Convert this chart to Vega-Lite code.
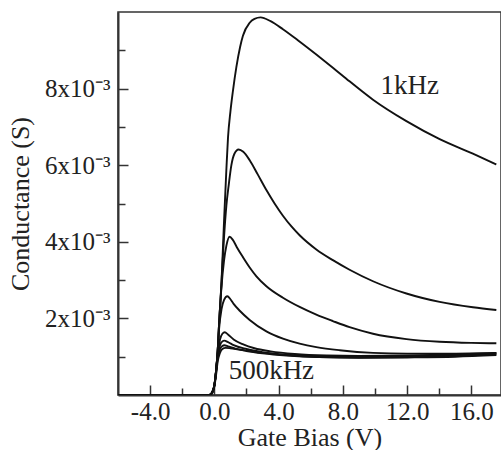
{
  "$schema": "https://vega.github.io/schema/vega-lite/v6.json",
  "width": 383,
  "height": 383,
  "autosize": "none",
  "padding": {"left": 118, "top": 12, "right": 0, "bottom": 55},
  "background": "white",
  "config": {
    "view": {"stroke": "#333", "strokeWidth": 1.5},
    "font": "Liberation Serif",
    "axis": {
      "grid": false,
      "labelFont": "Liberation Serif",
      "titleFont": "Liberation Serif",
      "labelColor": "#222",
      "titleColor": "#222",
      "labelFontSize": 25,
      "titleFontSize": 26,
      "titleFontWeight": "normal",
      "domainColor": "#333",
      "domainWidth": 2,
      "tickColor": "#333",
      "tickWidth": 1.5
    }
  },
  "datasets": {
    "curves": [
      {"curve": "1kHz", "bias": -6, "conductance": 0},
      {"curve": "1kHz", "bias": -0.3, "conductance": 0},
      {"curve": "1kHz", "bias": -0.1, "conductance": 0.0001},
      {"curve": "1kHz", "bias": 0, "conductance": 0.00025},
      {"curve": "1kHz", "bias": 0.1, "conductance": 0.0006},
      {"curve": "1kHz", "bias": 0.2, "conductance": 0.0011},
      {"curve": "1kHz", "bias": 0.3, "conductance": 0.0019},
      {"curve": "1kHz", "bias": 0.44, "conductance": 0.0029},
      {"curve": "1kHz", "bias": 0.6, "conductance": 0.0045},
      {"curve": "1kHz", "bias": 0.75, "conductance": 0.0059},
      {"curve": "1kHz", "bias": 0.85, "conductance": 0.00672},
      {"curve": "1kHz", "bias": 1.0, "conductance": 0.0074},
      {"curve": "1kHz", "bias": 1.16, "conductance": 0.00795},
      {"curve": "1kHz", "bias": 1.37, "conductance": 0.00856},
      {"curve": "1kHz", "bias": 1.6, "conductance": 0.00908},
      {"curve": "1kHz", "bias": 1.78, "conductance": 0.00938},
      {"curve": "1kHz", "bias": 2.2, "conductance": 0.00972},
      {"curve": "1kHz", "bias": 2.5, "conductance": 0.00982},
      {"curve": "1kHz", "bias": 2.88, "conductance": 0.00986},
      {"curve": "1kHz", "bias": 3.5, "conductance": 0.00976},
      {"curve": "1kHz", "bias": 4.27, "conductance": 0.00955},
      {"curve": "1kHz", "bias": 5.3, "conductance": 0.00923},
      {"curve": "1kHz", "bias": 6.35, "conductance": 0.00889},
      {"curve": "1kHz", "bias": 7.4, "conductance": 0.00854},
      {"curve": "1kHz", "bias": 8.42, "conductance": 0.00819},
      {"curve": "1kHz", "bias": 9.88, "conductance": 0.00771},
      {"curve": "1kHz", "bias": 11.96, "conductance": 0.00715},
      {"curve": "1kHz", "bias": 14.03, "conductance": 0.00668},
      {"curve": "1kHz", "bias": 16.1, "conductance": 0.0063},
      {"curve": "1kHz", "bias": 17.56, "conductance": 0.00602},

      {"curve": "c2", "bias": -6, "conductance": 0},
      {"curve": "c2", "bias": -0.3, "conductance": 0},
      {"curve": "c2", "bias": -0.1, "conductance": 0.0001},
      {"curve": "c2", "bias": 0, "conductance": 0.00025},
      {"curve": "c2", "bias": 0.1, "conductance": 0.0006},
      {"curve": "c2", "bias": 0.2, "conductance": 0.0011},
      {"curve": "c2", "bias": 0.3, "conductance": 0.0019},
      {"curve": "c2", "bias": 0.44, "conductance": 0.0029},
      {"curve": "c2", "bias": 0.6, "conductance": 0.0041},
      {"curve": "c2", "bias": 0.75, "conductance": 0.00495},
      {"curve": "c2", "bias": 0.9, "conductance": 0.0055},
      {"curve": "c2", "bias": 1.06, "conductance": 0.006},
      {"curve": "c2", "bias": 1.25, "conductance": 0.0063},
      {"curve": "c2", "bias": 1.51, "conductance": 0.00641},
      {"curve": "c2", "bias": 1.8, "conductance": 0.00635},
      {"curve": "c2", "bias": 2.2, "conductance": 0.00613},
      {"curve": "c2", "bias": 2.7, "conductance": 0.00576},
      {"curve": "c2", "bias": 3.24, "conductance": 0.00535},
      {"curve": "c2", "bias": 3.75, "conductance": 0.005},
      {"curve": "c2", "bias": 4.27, "conductance": 0.00468},
      {"curve": "c2", "bias": 4.8, "conductance": 0.0044},
      {"curve": "c2", "bias": 5.31, "conductance": 0.00417},
      {"curve": "c2", "bias": 6.35, "conductance": 0.0038},
      {"curve": "c2", "bias": 7.38, "conductance": 0.00352},
      {"curve": "c2", "bias": 8.42, "conductance": 0.00327},
      {"curve": "c2", "bias": 9.88, "conductance": 0.00297},
      {"curve": "c2", "bias": 11.96, "conductance": 0.00265},
      {"curve": "c2", "bias": 14.03, "conductance": 0.00243},
      {"curve": "c2", "bias": 16.1, "conductance": 0.00229},
      {"curve": "c2", "bias": 17.56, "conductance": 0.00222},

      {"curve": "c3", "bias": -6, "conductance": 0},
      {"curve": "c3", "bias": -0.3, "conductance": 0},
      {"curve": "c3", "bias": -0.1, "conductance": 0.0001},
      {"curve": "c3", "bias": 0, "conductance": 0.00025},
      {"curve": "c3", "bias": 0.1, "conductance": 0.0006},
      {"curve": "c3", "bias": 0.2, "conductance": 0.0011},
      {"curve": "c3", "bias": 0.3, "conductance": 0.0019},
      {"curve": "c3", "bias": 0.44, "conductance": 0.0028},
      {"curve": "c3", "bias": 0.6, "conductance": 0.0035},
      {"curve": "c3", "bias": 0.75, "conductance": 0.0039},
      {"curve": "c3", "bias": 0.95, "conductance": 0.00413},
      {"curve": "c3", "bias": 1.15, "conductance": 0.00405},
      {"curve": "c3", "bias": 1.4, "conductance": 0.00386},
      {"curve": "c3", "bias": 1.78, "conductance": 0.0036},
      {"curve": "c3", "bias": 2.2, "conductance": 0.00333},
      {"curve": "c3", "bias": 2.62, "conductance": 0.0031},
      {"curve": "c3", "bias": 3.24, "conductance": 0.00284},
      {"curve": "c3", "bias": 4.27, "conductance": 0.00254},
      {"curve": "c3", "bias": 5.31, "conductance": 0.0023},
      {"curve": "c3", "bias": 6.35, "conductance": 0.0021},
      {"curve": "c3", "bias": 7.38, "conductance": 0.00193},
      {"curve": "c3", "bias": 8.42, "conductance": 0.00177},
      {"curve": "c3", "bias": 9.88, "conductance": 0.0016},
      {"curve": "c3", "bias": 11.96, "conductance": 0.00146},
      {"curve": "c3", "bias": 14.03, "conductance": 0.00139},
      {"curve": "c3", "bias": 16, "conductance": 0.00136},
      {"curve": "c3", "bias": 17.56, "conductance": 0.00135},

      {"curve": "c4", "bias": -6, "conductance": 0},
      {"curve": "c4", "bias": -0.3, "conductance": 0},
      {"curve": "c4", "bias": -0.1, "conductance": 0.0001},
      {"curve": "c4", "bias": 0, "conductance": 0.00025},
      {"curve": "c4", "bias": 0.1, "conductance": 0.0006},
      {"curve": "c4", "bias": 0.2, "conductance": 0.0011},
      {"curve": "c4", "bias": 0.3, "conductance": 0.00175},
      {"curve": "c4", "bias": 0.45, "conductance": 0.00225},
      {"curve": "c4", "bias": 0.6, "conductance": 0.00248},
      {"curve": "c4", "bias": 0.81, "conductance": 0.00258},
      {"curve": "c4", "bias": 1.0, "conductance": 0.0025},
      {"curve": "c4", "bias": 1.2, "conductance": 0.00238},
      {"curve": "c4", "bias": 1.58, "conductance": 0.0022},
      {"curve": "c4", "bias": 2.2, "conductance": 0.00196},
      {"curve": "c4", "bias": 3.24, "conductance": 0.00166},
      {"curve": "c4", "bias": 4.27, "conductance": 0.00147},
      {"curve": "c4", "bias": 5.31, "conductance": 0.00134},
      {"curve": "c4", "bias": 6.35, "conductance": 0.00125},
      {"curve": "c4", "bias": 7.8, "conductance": 0.00117},
      {"curve": "c4", "bias": 9.88, "conductance": 0.0011},
      {"curve": "c4", "bias": 12, "conductance": 0.00108},
      {"curve": "c4", "bias": 14, "conductance": 0.00108},
      {"curve": "c4", "bias": 17.56, "conductance": 0.0011},

      {"curve": "c5", "bias": -6, "conductance": 0},
      {"curve": "c5", "bias": -0.3, "conductance": 0},
      {"curve": "c5", "bias": -0.1, "conductance": 0.0001},
      {"curve": "c5", "bias": 0, "conductance": 0.00025},
      {"curve": "c5", "bias": 0.1, "conductance": 0.0006},
      {"curve": "c5", "bias": 0.2, "conductance": 0.00105},
      {"curve": "c5", "bias": 0.35, "conductance": 0.00145},
      {"curve": "c5", "bias": 0.5, "conductance": 0.0016},
      {"curve": "c5", "bias": 0.65, "conductance": 0.00164},
      {"curve": "c5", "bias": 0.85, "conductance": 0.00158},
      {"curve": "c5", "bias": 1.2, "conductance": 0.00145},
      {"curve": "c5", "bias": 1.8, "conductance": 0.00132},
      {"curve": "c5", "bias": 2.5, "conductance": 0.00122},
      {"curve": "c5", "bias": 3.5, "conductance": 0.00114},
      {"curve": "c5", "bias": 5, "conductance": 0.00107},
      {"curve": "c5", "bias": 7, "conductance": 0.00103},
      {"curve": "c5", "bias": 9, "conductance": 0.00102},
      {"curve": "c5", "bias": 12, "conductance": 0.00103},
      {"curve": "c5", "bias": 15, "conductance": 0.00106},
      {"curve": "c5", "bias": 17.56, "conductance": 0.0011},

      {"curve": "c6", "bias": -6, "conductance": 0},
      {"curve": "c6", "bias": -0.3, "conductance": 0},
      {"curve": "c6", "bias": -0.1, "conductance": 0.0001},
      {"curve": "c6", "bias": 0, "conductance": 0.00025},
      {"curve": "c6", "bias": 0.1, "conductance": 0.0006},
      {"curve": "c6", "bias": 0.2, "conductance": 0.001},
      {"curve": "c6", "bias": 0.35, "conductance": 0.0013},
      {"curve": "c6", "bias": 0.5, "conductance": 0.0014},
      {"curve": "c6", "bias": 0.62, "conductance": 0.00142},
      {"curve": "c6", "bias": 0.85, "conductance": 0.00138},
      {"curve": "c6", "bias": 1.2, "conductance": 0.0013},
      {"curve": "c6", "bias": 2, "conductance": 0.0012},
      {"curve": "c6", "bias": 3, "conductance": 0.00112},
      {"curve": "c6", "bias": 4.5, "conductance": 0.00105},
      {"curve": "c6", "bias": 6.5, "conductance": 0.00101},
      {"curve": "c6", "bias": 9, "conductance": 0.001},
      {"curve": "c6", "bias": 12, "conductance": 0.00101},
      {"curve": "c6", "bias": 15, "conductance": 0.00104},
      {"curve": "c6", "bias": 17.56, "conductance": 0.00108},

      {"curve": "c7", "bias": -6, "conductance": 0},
      {"curve": "c7", "bias": -0.3, "conductance": 0},
      {"curve": "c7", "bias": -0.1, "conductance": 0.0001},
      {"curve": "c7", "bias": 0, "conductance": 0.00025},
      {"curve": "c7", "bias": 0.1, "conductance": 0.00055},
      {"curve": "c7", "bias": 0.2, "conductance": 0.00095},
      {"curve": "c7", "bias": 0.35, "conductance": 0.0012},
      {"curve": "c7", "bias": 0.5, "conductance": 0.00128},
      {"curve": "c7", "bias": 0.62, "conductance": 0.0013},
      {"curve": "c7", "bias": 0.85, "conductance": 0.00127},
      {"curve": "c7", "bias": 1.3, "conductance": 0.00121},
      {"curve": "c7", "bias": 2, "conductance": 0.00115},
      {"curve": "c7", "bias": 3, "conductance": 0.00109},
      {"curve": "c7", "bias": 4.5, "conductance": 0.00103},
      {"curve": "c7", "bias": 6.5, "conductance": 0.00099},
      {"curve": "c7", "bias": 9, "conductance": 0.00098},
      {"curve": "c7", "bias": 12, "conductance": 0.00099},
      {"curve": "c7", "bias": 15, "conductance": 0.00102},
      {"curve": "c7", "bias": 17.56, "conductance": 0.00106},

      {"curve": "500kHz", "bias": -6, "conductance": 0},
      {"curve": "500kHz", "bias": -0.3, "conductance": 0},
      {"curve": "500kHz", "bias": -0.1, "conductance": 0.00008},
      {"curve": "500kHz", "bias": 0, "conductance": 0.00022},
      {"curve": "500kHz", "bias": 0.1, "conductance": 0.0005},
      {"curve": "500kHz", "bias": 0.2, "conductance": 0.00085},
      {"curve": "500kHz", "bias": 0.35, "conductance": 0.0011},
      {"curve": "500kHz", "bias": 0.5, "conductance": 0.0012},
      {"curve": "500kHz", "bias": 0.7, "conductance": 0.00123},
      {"curve": "500kHz", "bias": 1.0, "conductance": 0.00122},
      {"curve": "500kHz", "bias": 1.5, "conductance": 0.00119},
      {"curve": "500kHz", "bias": 2, "conductance": 0.00116},
      {"curve": "500kHz", "bias": 3, "conductance": 0.0011},
      {"curve": "500kHz", "bias": 4.5, "conductance": 0.00104},
      {"curve": "500kHz", "bias": 6.5, "conductance": 0.00099},
      {"curve": "500kHz", "bias": 9, "conductance": 0.00097},
      {"curve": "500kHz", "bias": 12, "conductance": 0.00098},
      {"curve": "500kHz", "bias": 15, "conductance": 0.001},
      {"curve": "500kHz", "bias": 17.56, "conductance": 0.00104}
    ],
    "labels": [
      {"label": "1kHz", "bias": 12.17, "conductance": 0.00808},
      {"label": "500kHz", "bias": 3.55, "conductance": 0.00063}
    ]
  },
  "layer": [
    {
      "data": {"name": "curves"},
      "mark": {"type": "line", "interpolate": "monotone", "color": "#111", "strokeWidth": 1.9, "clip": true},
      "encoding": {
        "x": {
          "field": "bias", "type": "quantitative",
          "scale": {"domain": [-6, 17.85], "nice": false, "zero": false},
          "axis": {"title": "Gate Bias (V)", "values": [-4, 0, 4, 8, 12, 16], "labelExpr": "replace(format(datum.value, '.1f'), '−', '-')", "tickSize": -10, "labelPadding": 14, "titlePadding": 0, "orient": "bottom"}
        },
        "y": {
          "field": "conductance", "type": "quantitative",
          "scale": {"domain": [0, 0.01], "nice": false, "zero": true},
          "axis": {"title": "Conductance (S)", "values": [0.002, 0.004, 0.006, 0.008], "labelExpr": "round(datum.value*1000) + 'x10⁻³'", "tickSize": -10, "labelPadding": 18, "titlePadding": 11, "orient": "left"}
        },
        "detail": {"field": "curve", "type": "nominal"}
      }
    },
    {
      "data": {"name": "labels"},
      "mark": {"type": "text", "font": "Liberation Serif", "fontSize": 27, "color": "#222", "align": "center", "baseline": "middle"},
      "encoding": {
        "x": {"field": "bias", "type": "quantitative", "axis": null},
        "y": {"field": "conductance", "type": "quantitative", "axis": null},
        "text": {"field": "label", "type": "nominal"}
      }
    },
    {
      "data": {"name": "curves"},
      "mark": {"type": "point", "opacity": 0},
      "encoding": {
        "x": {"field": "bias", "type": "quantitative", "axis": {"orient": "bottom", "values": [-2, 2, 6, 10, 14], "tickSize": -7, "labels": false, "domain": false, "title": null}},
        "y": {"field": "conductance", "type": "quantitative", "axis": {"orient": "left", "values": [0.001, 0.003, 0.005, 0.007, 0.009], "tickSize": -7, "labels": false, "domain": false, "title": null}}
      }
    }
  ],
  "resolve": {"axis": {"x": "independent", "y": "independent"}}
}
